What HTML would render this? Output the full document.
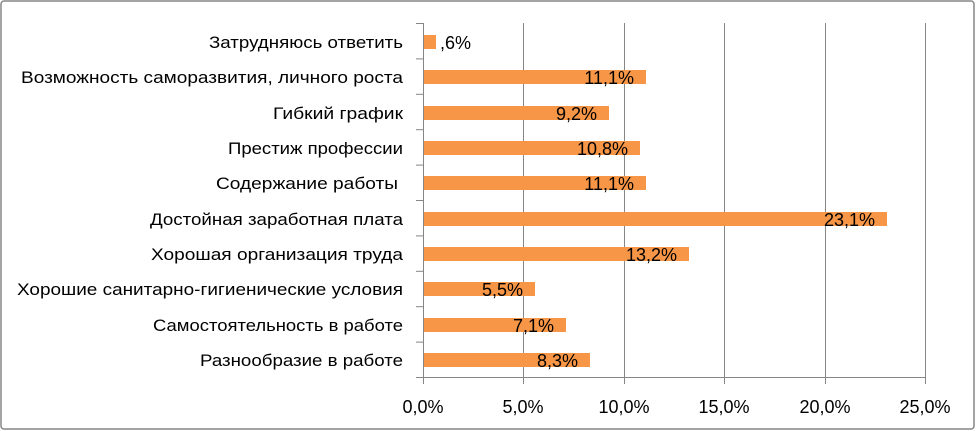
<!DOCTYPE html>
<html><head><meta charset="utf-8"><style>
html,body{margin:0;padding:0;background:#fff}
svg{display:block;font-family:"Liberation Sans",sans-serif}
</style></head><body>
<svg width="976" height="431" viewBox="0 0 976 431" xmlns="http://www.w3.org/2000/svg">
<rect x="1" y="1" width="973" height="428" rx="3" fill="#fff" stroke="#868686" stroke-width="1.5"/>
<g stroke="#868686" stroke-width="1">
<line x1="523.5" y1="23" x2="523.5" y2="384"/>
<line x1="624.5" y1="23" x2="624.5" y2="384"/>
<line x1="724.5" y1="23" x2="724.5" y2="384"/>
<line x1="825.5" y1="23" x2="825.5" y2="384"/>
<line x1="925.5" y1="23" x2="925.5" y2="384"/>
<line x1="423.5" y1="23" x2="423.5" y2="384"/>
<line x1="416" y1="377.5" x2="926" y2="377.5"/>
<line x1="416" y1="23.5" x2="423" y2="23.5"/>
<line x1="416" y1="58.9" x2="423" y2="58.9"/>
<line x1="416" y1="94.3" x2="423" y2="94.3"/>
<line x1="416" y1="129.7" x2="423" y2="129.7"/>
<line x1="416" y1="165.1" x2="423" y2="165.1"/>
<line x1="416" y1="200.5" x2="423" y2="200.5"/>
<line x1="416" y1="235.9" x2="423" y2="235.9"/>
<line x1="416" y1="271.3" x2="423" y2="271.3"/>
<line x1="416" y1="306.7" x2="423" y2="306.7"/>
<line x1="416" y1="342.1" x2="423" y2="342.1"/>
</g>
<g fill="#F79646">
<rect x="424" y="35" width="12" height="14"/>
<rect x="424" y="70" width="222" height="14"/>
<rect x="424" y="106" width="185" height="14"/>
<rect x="424" y="141" width="216" height="14"/>
<rect x="424" y="176" width="222" height="14"/>
<rect x="424" y="212" width="463" height="14"/>
<rect x="424" y="247" width="265" height="14"/>
<rect x="424" y="282" width="111" height="14"/>
<rect x="424" y="318" width="142" height="14"/>
<rect x="424" y="353" width="166" height="14"/>
</g>
<g font-size="16.5" fill="#000" text-anchor="end">
<text x="403" y="48" textLength="194" lengthAdjust="spacingAndGlyphs">Затрудняюсь ответить</text>
<text x="403" y="83" textLength="382" lengthAdjust="spacingAndGlyphs">Возможность саморазвития, личного роста</text>
<text x="403" y="119" textLength="130" lengthAdjust="spacingAndGlyphs">Гибкий график</text>
<text x="403" y="154" textLength="175" lengthAdjust="spacingAndGlyphs">Престиж профессии</text>
<text x="398" y="189" textLength="182" lengthAdjust="spacingAndGlyphs">Содержание работы</text>
<text x="403" y="225" textLength="253" lengthAdjust="spacingAndGlyphs">Достойная заработная плата</text>
<text x="403" y="260" textLength="252" lengthAdjust="spacingAndGlyphs">Хорошая организация труда</text>
<text x="403" y="295" textLength="386" lengthAdjust="spacingAndGlyphs">Хорошие санитарно-гигиенические  условия</text>
<text x="403" y="331" textLength="250" lengthAdjust="spacingAndGlyphs">Самостоятельность в работе</text>
<text x="403" y="366" textLength="203" lengthAdjust="spacingAndGlyphs">Разнообразие в работе</text>
</g>
<g font-size="18" fill="#000" text-anchor="end">
<text x="634" y="84">11,1%</text>
<text x="597" y="120">9,2%</text>
<text x="628" y="155">10,8%</text>
<text x="634" y="190">11,1%</text>
<text x="875" y="226">23,1%</text>
<text x="677" y="261">13,2%</text>
<text x="523" y="296">5,5%</text>
<text x="554" y="332">7,1%</text>
<text x="578" y="367">8,3%</text>
</g>
<text x="440" y="49" font-size="18">,6%</text>
<g font-size="18" fill="#000" text-anchor="middle">
<text x="423" y="413">0,0%</text>
<text x="523" y="413">5,0%</text>
<text x="624" y="413">10,0%</text>
<text x="724" y="413">15,0%</text>
<text x="825" y="413">20,0%</text>
<text x="925" y="413">25,0%</text>
</g>
</svg>
</body></html>
